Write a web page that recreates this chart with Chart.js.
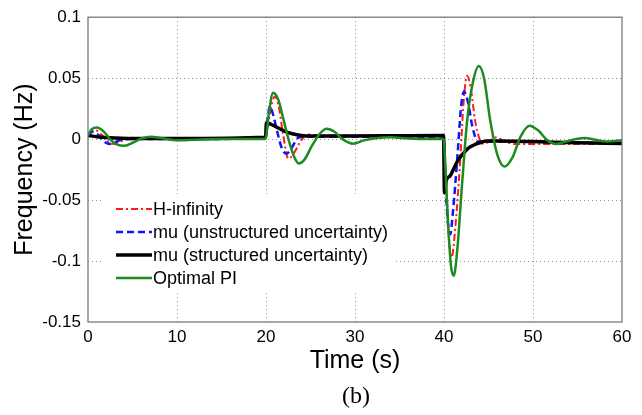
<!DOCTYPE html>
<html>
<head>
<meta charset="utf-8">
<script src="https://cdn.jsdelivr.net/npm/chart.js@4"></script>
<style>
html,body{margin:0;padding:0;background:#fff;}
#wrap{width:642px;height:415px;position:relative;}
</style>
</head>
<body>
<div id="wrap"><canvas id="c" width="642" height="415"></canvas></div>
<script>
// ---- data ----
const xTicks = [0, 10, 20, 30, 40, 50, 60];
const yTicks = [0.1, 0.05, 0, -0.05, -0.1, -0.15];
const seriesNames = ['H-infinity', 'mu (unstructured uncertainty)', 'mu (structured uncertainty)', 'Optimal PI'];

const tHinf = [0, 0.4, 0.9, 1.6, 2.3, 2.9, 3.6, 4.5, 6, 10, 15, 19.95,
  20.3, 20.7, 21.0, 21.4, 21.9, 22.5, 23.0, 23.8, 24.6, 25.5, 30, 35, 39.95,
  40.2, 40.5, 40.85, 41.3, 41.8, 42.2, 42.6, 43.0, 43.5, 44.0, 44.5, 45.2, 45.9, 46.8, 48, 50, 55, 60];
const vHinf = [0.003, 0.006, 0.007, 0.003, -0.002, -0.004, -0.002, 0.0, 0.0005, 0, 0, 0.0005,
  0.015, 0.030, 0.035, 0.028, 0.005, -0.016, -0.013, -0.003, 0.004, 0.003, 0.003, 0.003, 0.003,
  -0.030, -0.075, -0.097, -0.070, -0.020, 0.030, 0.052, 0.042, 0.015, 0.0, -0.004, -0.001, 0.0015, -0.002, -0.004, -0.004, -0.004, -0.004];

const tMuU = [0, 0.5, 1.2, 1.8, 2.5, 3.2, 4.0, 6, 10, 19.95,
  20.15, 20.45, 20.8, 21.3, 21.8, 22.3, 22.9, 23.6, 24.5, 30, 39.95,
  40.2, 40.45, 40.7, 41.0, 41.5, 41.9, 42.25, 42.7, 43.2, 43.8, 45, 50, 55, 60];
const vMuU = [0.003, 0.006, 0.003, -0.002, -0.004, -0.002, 0.0, 0.0, 0, 0.001,
  0.015, 0.027, 0.020, 0.005, -0.008, -0.012, -0.007, 0.001, 0.002, 0.002, 0.002,
  -0.040, -0.070, -0.078, -0.060, -0.015, 0.025, 0.039, 0.030, 0.010, -0.002, -0.002, -0.002, -0.003, -0.003];

const tMuS = [0, 1, 3, 6, 10, 19.95,
  20.05, 20.6, 21.6, 22.4, 23.1, 24.0, 25, 30, 35, 39.95,
  40.05, 40.25, 40.7, 41.05, 41.6, 42.2, 42.8, 43.3, 44.0, 44.8, 46, 50, 55, 60];
const vMuS = [0.003, 0.002, 0.001, 0.0005, 0.0005, 0.0015,
  0.0135, 0.012, 0.0083, 0.0055, 0.0042, 0.003, 0.0025, 0.0025, 0.0028, 0.003,
  -0.044, -0.034, -0.030, -0.025, -0.017, -0.0115, -0.007, -0.005, -0.003, -0.0016, -0.0015, -0.002, -0.003, -0.0035];

const tPI = [0, 0.4, 1.0, 1.8, 2.6, 3.3, 4.0, 5.0, 6.0, 7.0, 8.5, 10, 12, 15, 18, 19.95,
  20.3, 20.8, 21.4, 22.0, 22.6, 23.2, 23.7, 24.3, 25.2, 26.0, 26.8, 27.7, 28.6, 29.8, 31, 32.5, 34, 36, 38, 39.95,
  40.2, 40.5, 40.8, 41.1, 41.5, 42.0, 42.6, 43.2, 43.9, 44.5, 45.2, 46.0, 46.8, 47.7, 48.6, 49.6, 50.6, 51.6, 52.6, 53.7, 54.8, 55.8, 57, 58.2, 59.2, 60];
const vPI = [0.003, 0.008, 0.0095, 0.006, -0.001, -0.0045, -0.0055, -0.003, 0.0005, 0.002, 0.0005, -0.001, -0.0005, 0, 0, 0,
  0.020, 0.038, 0.032, 0.015, -0.002, -0.015, -0.020, -0.017, -0.005, 0.004, 0.0085, 0.006, 0.0, -0.0037, -0.001, 0.001, 0.0015, 0.0005, 0.0, 0.0,
  -0.030, -0.075, -0.105, -0.112, -0.090, -0.040, 0.015, 0.045, 0.060, 0.050, 0.015, -0.013, -0.0225, -0.015, 0.002, 0.011, 0.007, -0.001, -0.004, -0.002, 0.0, 0.001, -0.0005, -0.002, -0.0015, -0.001];

function pts(t, v) { return t.map((x, i) => ({x: x, y: v[i]})); }

const styles = [
  {color: '#ff1a1a', width: 2, dash: [7, 3, 2, 3], order: 3},
  {color: '#0a14ff', width: 2.5, dash: [7, 4], order: 2},
  {color: '#000000', width: 3.5, dash: [], order: 1},
  {color: '#1f8a1f', width: 2.5, dash: [], order: 0}
];
const seriesData = [pts(tHinf, vHinf), pts(tMuU, vMuU), pts(tMuS, vMuS), pts(tPI, vPI)];

const datasets = seriesData.map((d, i) => ({
  label: seriesNames[i],
  data: d,
  borderColor: styles[i].color,
  borderWidth: styles[i].width,
  borderDash: styles[i].dash,
  order: styles[i].order,
  pointRadius: 0,
  fill: false,
  cubicInterpolationMode: 'monotone',
  tension: 0.4
}));

const AX = '#6e6e6e';
const SANS = '"Liberation Sans", Arial, sans-serif';

const boxPlugin = {
  id: 'boxPlugin',
  beforeDatasetsDraw(chart) {
    const ctx = chart.ctx;
    ctx.save();
    ctx.fillStyle = '#ffffff';
    ctx.fillRect(102, 194, 294, 98);
    ctx.restore();
  },
  afterDatasetsDraw(chart) {
    const ctx = chart.ctx;
    const a = chart.chartArea;
    ctx.save();
    const ys = [209, 232, 255, 278];
    ctx.font = '18px ' + SANS;
    ctx.textBaseline = 'middle';
    ctx.textAlign = 'left';
    for (let i = 0; i < 4; i++) {
      ctx.beginPath();
      ctx.strokeStyle = styles[i].color;
      ctx.lineWidth = styles[i].width;
      ctx.setLineDash(styles[i].dash);
      ctx.moveTo(116, ys[i]);
      ctx.lineTo(152, ys[i]);
      ctx.stroke();
      ctx.setLineDash([]);
      ctx.fillStyle = '#000';
      ctx.fillText(seriesNames[i], 153, ys[i] + 1);
    }
    ctx.strokeStyle = AX;
    ctx.lineWidth = 1.2;
    ctx.strokeRect(a.left, a.top, a.right - a.left, a.bottom - a.top);
    ctx.restore();
  },
  afterDraw(chart) {
    const ctx = chart.ctx;
    ctx.save();
    ctx.font = '24px "Liberation Serif", "Times New Roman", serif';
    ctx.fillStyle = '#000';
    ctx.textAlign = 'center';
    ctx.textBaseline = 'middle';
    ctx.fillText('(b)', 356, 397);
    ctx.restore();
  }
};

new Chart(document.getElementById('c'), {
  type: 'line',
  data: {datasets: datasets},
  options: {
    responsive: false,
    animation: false,
    events: [],
    layout: {padding: {top: 11, right: 20, bottom: 0, left: 0}},
    plugins: {legend: {display: false}, tooltip: {enabled: false}, title: {display: false}},
    scales: {
      x: {
        type: 'linear',
        min: 0, max: 60,
        afterBuildTicks(scale) { scale.ticks = xTicks.map(v => ({value: v})); },
        afterFit(scale) { scale.height = 93; },
        ticks: {
          font: {family: SANS, size: 17},
          color: '#000',
          padding: 5,
          maxRotation: 0,
          autoSkip: false,
          callback: v => String(v)
        },
        grid: {
          color: ctx => (ctx.tick && (ctx.tick.value === 0 || ctx.tick.value === 60)) ? 'rgba(0,0,0,0)' : '#8f8f8f',
          lineWidth: 1,
          drawTicks: false,
          tickLength: 0
        },
        border: {display: false, dash: [1, 3]},
        title: {
          display: true,
          text: 'Time (s)',
          color: '#000',
          font: {family: SANS, size: 25},
          padding: {top: 0, bottom: 39}
        }
      },
      y: {
        type: 'linear',
        min: -0.15, max: 0.1,
        afterBuildTicks(scale) { scale.ticks = yTicks.map(v => ({value: v})); },
        afterFit(scale) { scale.width = 88; },
        ticks: {
          font: {family: SANS, size: 17},
          color: '#000',
          padding: 7,
          autoSkip: false,
          callback: v => String(v)
        },
        grid: {
          color: ctx => (ctx.tick && (ctx.tick.value === 0.1 || ctx.tick.value === -0.15)) ? 'rgba(0,0,0,0)' : '#8f8f8f',
          lineWidth: 1,
          drawTicks: false,
          tickLength: 0
        },
        border: {display: false, dash: [1, 3]},
        title: {
          display: true,
          text: 'Frequency (Hz)',
          color: '#000',
          font: {family: SANS, size: 25},
          padding: {top: 10, bottom: 0}
        }
      }
    }
  },
  plugins: [boxPlugin]
});
</script>
</body>
</html>
